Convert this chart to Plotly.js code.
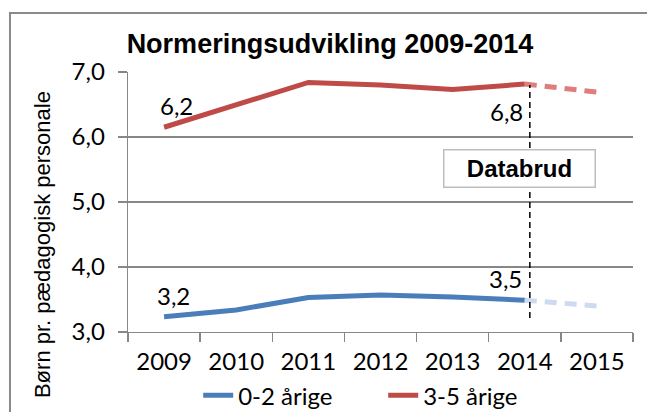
<!DOCTYPE html>
<html>
<head>
<meta charset="utf-8">
<script src="https://cdn.plot.ly/plotly-3.0.1.min.js"></script>
<style>html,body{margin:0;padding:0;background:#fff;}#chart{width:647px;height:412px;}</style>
</head>
<body>
<div id="chart"></div>
<script>
// ---- data ----
var years = ["2009", "2010", "2011", "2012", "2013", "2014", "2015"];
var age02 = [3.235, 3.34, 3.53, 3.57, 3.54, 3.49, 3.40];
var age35 = [6.15, 6.49, 6.84, 6.80, 6.73, 6.815, 6.69];
var seriesNames = ["0-2 årige", "3-5 årige"];
var chartTitle = "Normeringsudvikling 2009-2014";
var yTitle = "Børn pr. pædagogisk personale";
var breakLabel = "Databrud";
var breakYear = "2014";

var solidN = years.indexOf(breakYear) + 1;   // 2009..2014 solid
var tickFont = {family: "Lato, 'Open Sans', sans-serif", size: 24, color: "#000"};
var arial = "'Liberation Sans', Arial, sans-serif";

function fmt(v) { return v.toFixed(1).replace(".", ","); }

var traces = [
  {x: years.slice(0, solidN), y: age02.slice(0, solidN), name: seriesNames[0], type: "scatter", mode: "lines",
   line: {color: "#4a7ebb", width: 5}},
  {x: years.slice(0, solidN), y: age35.slice(0, solidN), name: seriesNames[1], type: "scatter", mode: "lines",
   line: {color: "#be4b48", width: 5}},
  {x: years.slice(solidN - 1), y: age02.slice(solidN - 1), type: "scatter", mode: "lines", showlegend: false,
   line: {color: "#cddaf0", width: 5, dash: "12px,8px"}},
  {x: years.slice(solidN - 1), y: age35.slice(solidN - 1), type: "scatter", mode: "lines", showlegend: false,
   line: {color: "#e07c7b", width: 5, dash: "12px,8px"}}
];

var last = solidN - 1;
var labelFont = {family: tickFont.family, size: 24, color: "#000"};
function dataLabel(i, v, dx, dy) {
  return {xref: "x", yref: "y", x: i, y: v, text: fmt(v), showarrow: false,
          xanchor: "center", yanchor: "middle", xshift: dx, yshift: dy, font: labelFont};
}
var annotations = [
  dataLabel(0, age35[0], 12, 22),
  dataLabel(last, age35[last], -18, -27),
  dataLabel(0, age02[0], 9, 21),
  dataLabel(last, age02[last], -19, 22),
  {xref: "x", yref: "y", x: last - 0.07, y: 5.515, text: "<b>" + breakLabel + "</b>", showarrow: false,
   width: 150, height: 36, borderpad: 0, bgcolor: "#fff", bordercolor: "#bdbdbd", borderwidth: 1.5,
   font: {family: arial, size: 24, color: "#000"}},
  {xref: "paper", yref: "paper", x: -0.168, y: 0.335, xanchor: "center", yanchor: "middle", textangle: -90,
   text: yTitle, showarrow: false, font: {family: arial, size: 22, color: "#000"}}
];

var shapes = [
  {type: "line", xref: "x", yref: "y", x0: last + 0.07, x1: last + 0.07, y0: 3.215, y1: 6.80,
   line: {color: "#000", width: 1.5, dash: "6px,4px"}},
  {type: "rect", xref: "paper", yref: "paper", x0: -0.2337, x1: 1.06, y0: -0.35, y1: 1.2269,
   line: {color: "#8a8a8a", width: 2}, fillcolor: "rgba(0,0,0,0)", layer: "below"}
];

var layout = {
  width: 647, height: 412,
  margin: {l: 128, r: 14, t: 72, b: 80, autoexpand: false},
  paper_bgcolor: "#fff", plot_bgcolor: "#fff",
  separators: ",.",
  title: {text: chartTitle, font: {family: arial, size: 27, weight: "bold", color: "#000"},
          x: 0.51, xref: "container", xanchor: "center", y: 0.895, yref: "container", yanchor: "middle"},
  xaxis: {type: "category", range: [-0.5, 6.5], tickson: "boundaries", ticks: "outside", ticklen: 9,
          tickcolor: "#878787", tickwidth: 1.3, showline: true, linecolor: "#878787", linewidth: 1.3,
          showgrid: false, zeroline: false, tickfont: tickFont, ticklabelstandoff: 8, fixedrange: true},
  yaxis: {range: [3, 7], dtick: 1, tick0: 3, tickformat: ".1f", ticks: "outside", ticklen: 9,
          tickcolor: "#878787", tickwidth: 1.3, showline: true, linecolor: "#878787", linewidth: 1.3,
          showgrid: true, gridcolor: "#878787", gridwidth: 1.3, zeroline: false, tickfont: tickFont,
          ticklabelstandoff: 8, fixedrange: true},
  showlegend: true,
  legend: {orientation: "h", x: 0.139, xanchor: "left", y: -0.245, yanchor: "middle",
           entrywidth: 140, entrywidthmode: "pixels",
           font: tickFont, bgcolor: "rgba(0,0,0,0)", traceorder: "normal"},
  annotations: annotations,
  shapes: shapes
};

Plotly.newPlot("chart", traces, layout, {displayModeBar: false, staticPlot: true});
</script>
</body>
</html>
